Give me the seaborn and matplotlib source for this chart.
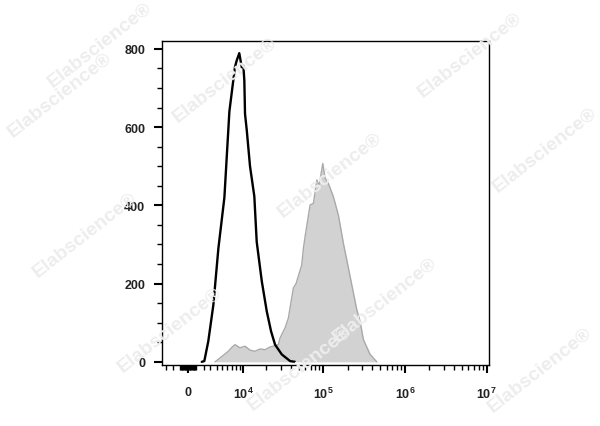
import numpy as np
import pandas as pd
import matplotlib
matplotlib.use("Agg")
import matplotlib.pyplot as plt
import seaborn as sns

# ---- data (fluorescence intensity, cell count) ----
ctrl_x = [1760, 2110, 2680, 3450, 4280, 5390, 6430, 7750, 8190, 8890, 9600, 10090,
          10400, 10620, 11200, 12350, 14040, 15060, 17470, 20180, 22840, 25600,
          31020, 39280, 45240]
ctrl_y = [0, 2, 53, 146, 290, 420, 640, 754, 770, 789, 753, 757,
          719, 634, 592, 500, 423, 307, 206, 129, 78, 44,
          19, 2, 0]

stain_x = [3720, 4940, 6200, 7075, 7750, 9070, 10620, 12350, 14310, 16620, 19200,
           22180, 24400, 28130, 29550, 34090, 37420, 43110, 46530, 54660, 57240,
           60040, 69190, 75950, 83550, 89150, 99000, 105550, 115900, 133400,
           153600, 176900, 213800, 258200, 283100, 310600, 375500, 453300]
stain_y = [0, 14, 27, 38, 44, 36, 40, 30, 27, 33, 31,
           38, 40, 44, 61, 87, 112, 189, 200, 248, 290,
           320, 401, 405, 465, 450, 507, 470, 456, 422,
           375, 303, 218, 133, 104, 57, 19, 0]

y_ticks = [0, 200, 400, 600, 800]
x_ticks = [0, 1e4, 1e5, 1e6, 1e7]
x_tick_labels = ["0", r"$\mathbf{10^4}$", r"$\mathbf{10^5}$", r"$\mathbf{10^6}$", r"$\mathbf{10^7}$"]

# ---- style ----
sns.set_theme(style="ticks")
plt.rcParams["font.family"] = ["Liberation Sans", "DejaVu Sans"]
plt.rcParams["mathtext.fontset"] = "custom"
plt.rcParams["mathtext.rm"] = "Liberation Sans"
plt.rcParams["mathtext.bf"] = "Liberation Sans:bold"
plt.rcParams["mathtext.it"] = "Liberation Sans:italic"

W = 4444.0
def fwd(x):
    return np.arcsinh(np.asarray(x, dtype=float) / W)
def inv(y):
    return W * np.sinh(np.asarray(y, dtype=float))

fig = plt.figure(figsize=(6.0, 4.27), dpi=100)

# faint watermarks (behind the axes)
wm = [(100, 45), (60, 95), (225, 80), (470, 55), (330, 175), (545, 150),
      (85, 235), (170, 330), (385, 300), (300, 368), (540, 370)]
for (px, py) in wm:
    fig.text(px / 600, 1 - py / 427, "Elabscience\u00ae", rotation=38,
             ha="center", va="center", fontsize=14, fontweight="bold",
             color="#ededed", zorder=0)

ax = fig.add_axes([0.27, 0.1429, 0.545, 0.7587])
ax.patch.set_alpha(0)
ax.set_xscale("function", functions=(fwd, inv))

df_s = pd.DataFrame({"x": stain_x, "y": stain_y})
df_c = pd.DataFrame({"x": ctrl_x, "y": ctrl_y})

ax.fill_between(df_s["x"], df_s["y"], 0, color="#d2d2d2", lw=0, zorder=1)
sns.lineplot(data=df_s, x="x", y="y", ax=ax, color="#a9a9a9", lw=1.0,
             sort=False, estimator=None, zorder=2)
sns.lineplot(data=df_c, x="x", y="y", ax=ax, color="black", lw=1.7,
             sort=False, estimator=None, zorder=3)

ax.set_xlim(-3560, 1.07e7)
ax.set_ylim(-8, 820)

ax.set_xticks(x_ticks)
ax.set_xticklabels(x_tick_labels)
minor = []
for k in [2, 3, 4, 5, 6]:
    for m in range(1, 10):
        v = m * 10 ** k
        if v not in x_ticks:
            minor.append(v)
for m in range(1, 10):
    minor.append(-m * 100)
for m in range(1, 4):
    minor.append(-m * 1000)
ax.set_xticks([v for v in minor if -3560 < v < 1.07e7], minor=True)

ax.set_yticks(y_ticks)
ax.set_yticks(np.arange(0, 801, 50), minor=True)

for s in ax.spines.values():
    s.set_color("black")
    s.set_linewidth(1.0)

ax.tick_params(axis="both", which="major", length=6, width=1.5, color="black",
               labelsize=9, labelcolor="#222222")
ax.tick_params(axis="both", which="minor", length=3.5, width=1.0, color="black")
ax.tick_params(axis="x", which="major", pad=9)
ax.tick_params(axis="y", which="major", pad=6)
for lab in ax.get_xticklabels() + ax.get_yticklabels():
    lab.set_fontweight("bold")
ax.set_xlabel("")
ax.set_ylabel("")

fig.savefig("out.png", dpi=100)
